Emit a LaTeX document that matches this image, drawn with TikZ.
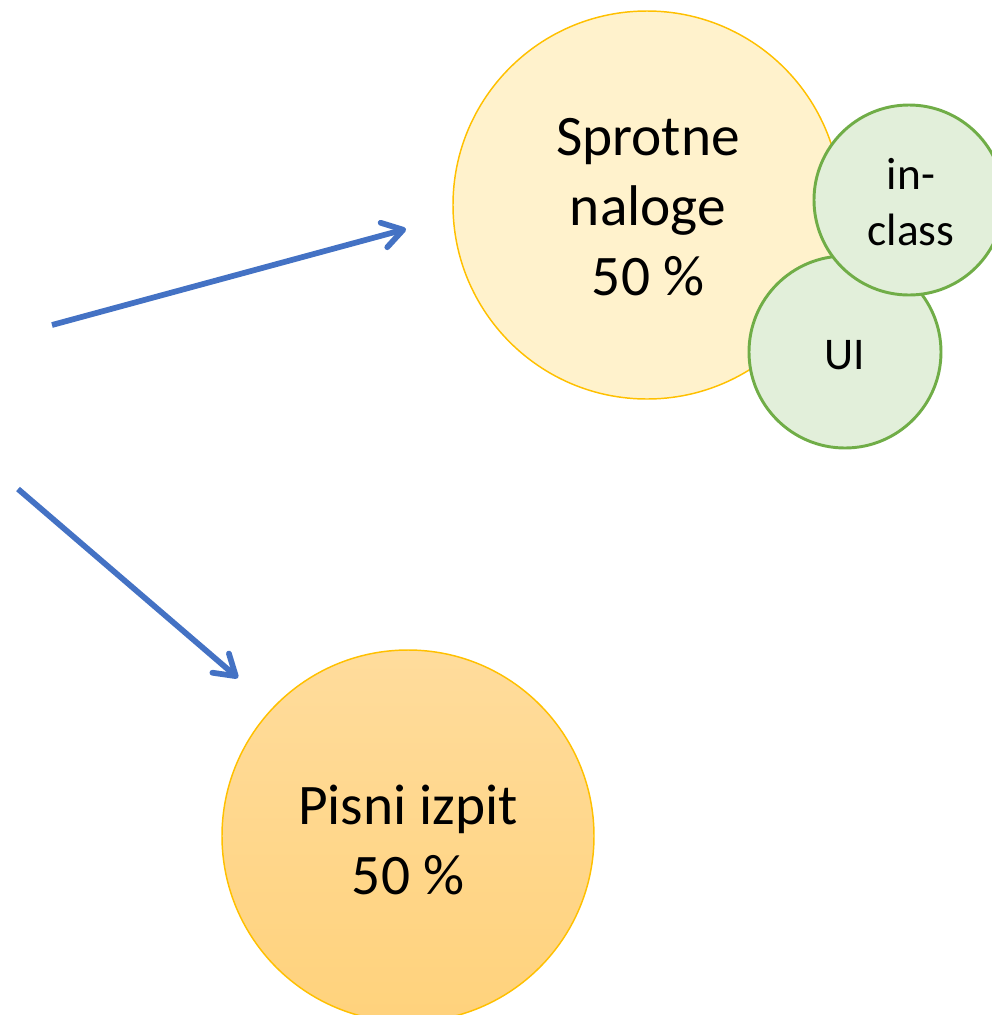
\documentclass[tikz,border=0pt]{standalone}
\usepackage{fontspec}
\setmainfont{Carlito}
\usetikzlibrary{arrows.meta}
\definecolor{ylfill}{HTML}{FFF2CC}
\definecolor{ylline}{HTML}{FFC000}
\definecolor{grfill}{HTML}{E2EFDA}
\definecolor{grline}{HTML}{70AD47}
\definecolor{ortop}{HTML}{FFDC9C}
\definecolor{orbot}{HTML}{FFD27C}
\definecolor{arrblue}{HTML}{4472C4}
\tikzset{
  bigtext/.style={align=center,font=\fontsize{43pt}{52.5pt}\selectfont},
  smalltext/.style={align=center,font=\fontsize{34pt}{42.5pt}\selectfont},
  yellowcirc/.style={fill=ylfill,draw=ylline,line width=1.1pt},
  greencirc/.style={fill=grfill,draw=grline,line width=2.2pt},
  orangecirc/.style={top color=ortop,bottom color=orbot,draw=ylline,line width=1.1pt},
  bluearrow/.style={draw=arrblue,line width=4.3pt,-{Straight Barb[length=15pt,width=19pt,round]}}
}
\begin{document}
\begin{tikzpicture}[x=0.75pt,y=-0.75pt]
\useasboundingbox (0,0) rectangle (992,1015);
\clip (0,0) rectangle (992,1015);
% circles
\path[yellowcirc] (647,205) circle (194);
\path[greencirc] (845,352) circle (96);
\path[greencirc] (909,200) circle (95);
\path[orangecirc] (408,836) circle (186);
% texts
\node[bigtext] (sprotne) at (648,207) {Sprotne\\naloge\\50 \%};
\node[smalltext] (inclass) at (911,202) {in-\\class};
\node[smalltext] (ui) at (845,355) {UI};
\node[bigtext] (pisni) at (408,840) {Pisni izpit\\50 \%};
% arrows
\coordinate (a1s) at (52,325);
\coordinate (a1e) at (406,229);
\coordinate (a2s) at (18,489);
\coordinate (a2e) at (238,678);
\draw[bluearrow] (a1s) -- (a1e);
\draw[bluearrow] (a2s) -- (a2e);
\end{tikzpicture}
\end{document}
